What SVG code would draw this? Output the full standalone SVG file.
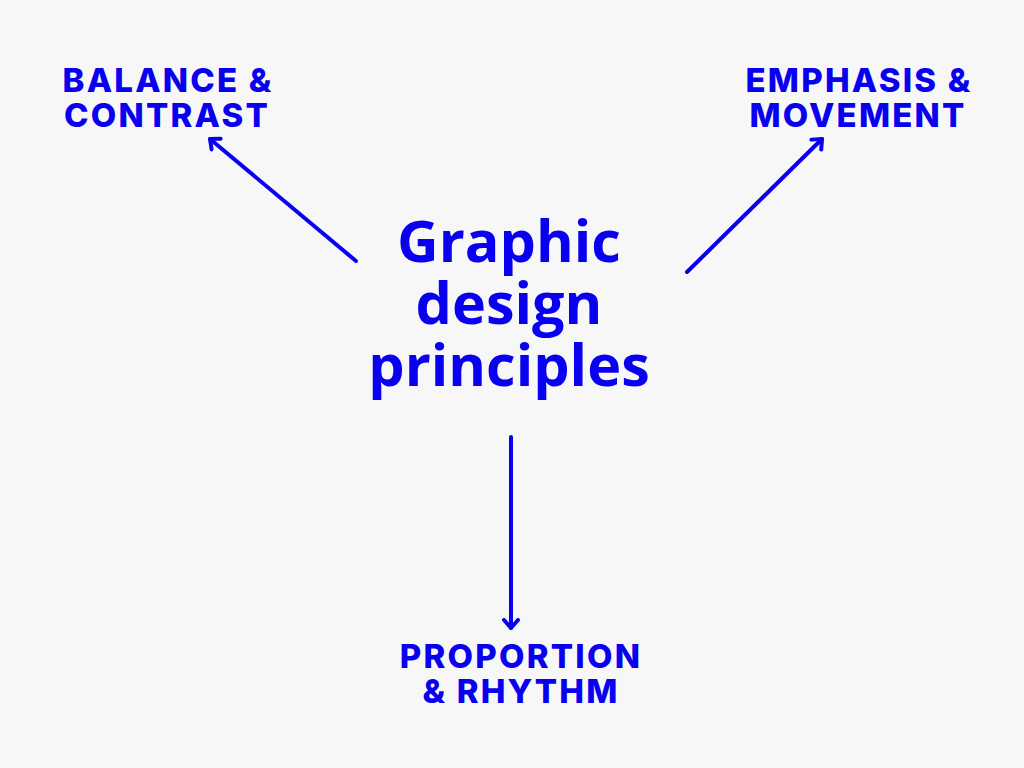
<svg xmlns="http://www.w3.org/2000/svg" width="1024" height="768" viewBox="0 0 1024 768">
<style>
.lbl{font-family:Inter,"Liberation Sans",sans-serif;font-weight:800;font-size:33px;letter-spacing:2.2px;fill:#0a00f0;text-anchor:middle}
.ctr{font-family:"Open Sans","Noto Sans",sans-serif;font-weight:700;font-size:57.5px;fill:#0a00f0;text-anchor:middle}
.conn{stroke:#0a00f0;stroke-width:4;fill:none;stroke-linecap:round}
</style>
<defs>
<marker id="arr" viewBox="0 0 20 20" refX="10" refY="10" markerWidth="20" markerHeight="20" markerUnits="userSpaceOnUse" orient="auto">
<path d="M2,3 L10,10 L2,17" fill="none" stroke="#0a00f0" stroke-width="4" stroke-linecap="round" stroke-linejoin="round"/>
</marker>
</defs>
<rect width="1024" height="768" fill="#f7f7f7"/>
<g id="center">
<text class="ctr" x="509" y="262">Graphic</text>
<text class="ctr" x="509" y="324">design</text>
<text class="ctr" x="509" y="386">principles</text>
</g>
<g id="balance">
<text class="lbl" x="168" y="92">BALANCE &amp;</text>
<text class="lbl" x="167" y="127">CONTRAST</text>
</g>
<g id="emphasis">
<text class="lbl" x="859" y="92">EMPHASIS &amp;</text>
<text class="lbl" x="858" y="127">MOVEMENT</text>
</g>
<g id="proportion">
<text class="lbl" x="521" y="668">PROPORTION</text>
<text class="lbl" x="521" y="703">&amp; RHYTHM</text>
</g>
<g id="connectors">
<line class="conn" x1="356" y1="261" x2="210" y2="139" marker-end="url(#arr)"/>
<line class="conn" x1="687" y1="272" x2="822" y2="139" marker-end="url(#arr)"/>
<line class="conn" x1="511" y1="437" x2="511" y2="628" marker-end="url(#arr)"/>
</g>
</svg>
